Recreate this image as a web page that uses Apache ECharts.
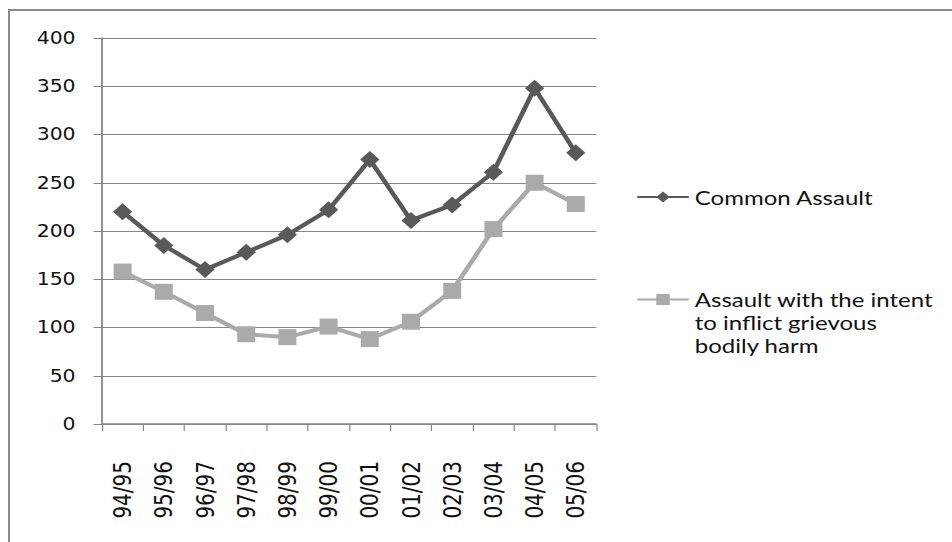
<!DOCTYPE html>
<html><head><meta charset="utf-8">
<script src="https://cdn.jsdelivr.net/npm/echarts@6/dist/echarts.min.js"></script>
<style>
html,body{margin:0;padding:0;background:#fff;overflow:hidden;}
#frame{position:absolute;left:8px;top:9px;width:960px;height:560px;border:2px solid #8a8a8a;box-sizing:border-box;}
#c{position:absolute;left:0;top:0;width:793px;height:542px;transform:scaleX(1.2);transform-origin:0 0;}
</style></head>
<body>
<div id="frame"></div>
<div id="c"></div>
<script>
const categories = ['94/95','95/96','96/97','97/98','98/99','99/00','00/01','01/02','02/03','03/04','04/05','05/06'];
const commonAssault = [220,185,160,178,196,222,274,211,227,261,348,281];
const gbh = [158,137,115,93,90,101,88,106,138,202,250,228];
const yTicks = {min:0, max:400, interval:50};
const name1 = 'Common Assault';
const name2 = 'Assault with the intent\nto inflict grievous\nbodily harm';

const chart = echarts.init(document.getElementById('c'), null, {renderer:'svg'});
chart.setOption({
  animation:false,
  backgroundColor:'transparent',
  grid:{left:85, right:296, top:38, bottom:118, containLabel:false},
  legend:[
    {data:[name1], orient:'vertical', left:530, top:185, padding:0, itemWidth:43, itemHeight:14, itemGap:0,
     textStyle:{fontFamily:'Lato', fontSize:20, lineHeight:24, color:'#111'}},
    {data:[name2], orient:'vertical', left:530, top:242, padding:0, itemWidth:43, itemHeight:14,
     formatter:function(n){return '\n\n' + n;},
     textStyle:{fontFamily:'Lato', fontSize:20, color:'#111', lineHeight:23}}
  ],
  xAxis:{type:'category', data:categories, boundaryGap:true,
    axisLine:{lineStyle:{color:'#868686', width:1.5}},
    axisTick:{show:true, length:7, interval:0, lineStyle:{color:'#868686'}},
    axisLabel:{rotate:90, interval:0, margin:37, fontFamily:'DejaVu Sans', fontSize:20, color:'#111'}},
  yAxis:{type:'value', min:yTicks.min, max:yTicks.max, interval:yTicks.interval,
    axisLine:{show:true, lineStyle:{color:'#868686', width:1.5}},
    axisTick:{show:true, length:7, lineStyle:{color:'#868686'}},
    splitLine:{lineStyle:{color:'#868686', width:1}},
    axisLabel:{margin:22, fontFamily:'DejaVu Sans', fontSize:17, color:'#111'}},
  series:[
    {name:name1, type:'line', data:commonAssault, symbol:'diamond', symbolSize:[16,17],
     lineStyle:{color:'#595959', width:4}, itemStyle:{color:'#595959'}},
    {name:name2, type:'line', data:gbh, symbol:'rect', symbolSize:[15,16],
     lineStyle:{color:'#aaaaaa', width:4}, itemStyle:{color:'#aaaaaa'}}
  ]
});
</script>
</body></html>
